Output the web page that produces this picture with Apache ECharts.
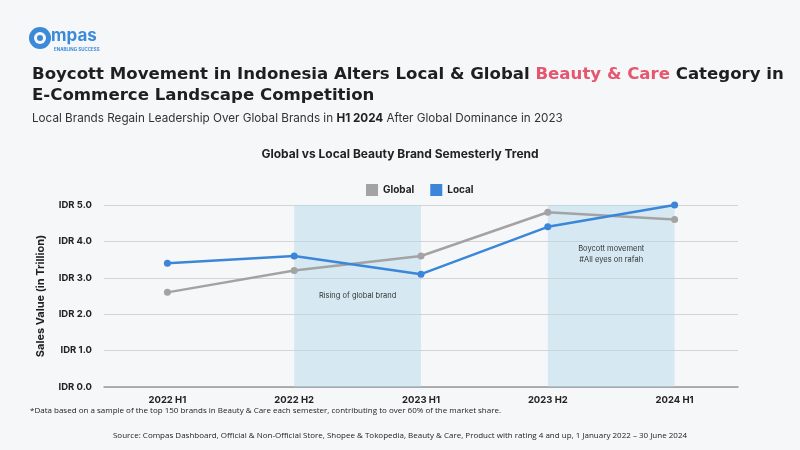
<!DOCTYPE html>
<html><head><meta charset="utf-8">
<script src="https://cdn.jsdelivr.net/npm/echarts@6/dist/echarts.min.js"></script>
<style>html,body{margin:0;padding:0;background:#f6f7f8}#c{width:800px;height:450px}</style>
</head><body><div id="c"></div>
<script>
const categories = ['2022 H1','2022 H2','2023 H1','2023 H2','2024 H1'];
const globalValues = [2.6, 3.2, 3.6, 4.8, 4.6];
const localValues = [3.4, 3.6, 3.1, 4.4, 5.0];
const seriesNames = ['Global','Local'];
const areas = [
  {from:'2022 H2', to:'2023 H1', text:'Rising of global brand'},
  {from:'2023 H2', to:'2024 H1', text:'Boycott movement\n#All eyes on rafah'}
];
const F = 'Inter, "Noto Sans", sans-serif';
const T = '"DejaVu Sans", Inter, sans-serif';
const chart = echarts.init(document.getElementById('c'));
chart.setOption({
  backgroundColor:'#f6f7f8',
  animation:false,
  title:[
    {left:32, top:64, padding:0, text:'Boycott Movement in Indonesia Alters Local & Global {p|Beauty & Care} Category in\nE-Commerce Landscape Competition',
     textStyle:{fontFamily:T, fontSize:16.6, fontWeight:'bold', color:'#1f1f1f', lineHeight:21,
       rich:{p:{fontFamily:T, fontSize:16.6, fontWeight:'bold', color:'#e5566f'}}}},
    {left:32, top:112, padding:0, text:'Local Brands Regain Leadership Over Global Brands in {b|H1 2024} After Global Dominance in 2023',
     textStyle:{fontFamily:F, fontSize:11.7, fontWeight:'normal', color:'#333',
       rich:{b:{fontFamily:F, fontSize:11.7, fontWeight:'bold', color:'#222'}}}},
    {left:'center', top:148, padding:0, text:'Global vs Local Beauty Brand Semesterly Trend',
     textStyle:{fontFamily:F, fontSize:12, fontWeight:'bold', color:'#222'}}
  ],
  legend:{top:184, left:366, padding:0, itemWidth:12, itemHeight:12, itemGap:16, icon:'rect',
    data:seriesNames, textStyle:{fontFamily:F, fontSize:10, fontWeight:'bold', color:'#222'}},
  grid:{left:104, right:62, top:205, bottom:63},
  xAxis:{type:'category', data:categories, boundaryGap:true,
    axisLine:{lineStyle:{color:'#999', width:1.5}}, axisTick:{show:false},
    axisLabel:{fontFamily:F, fontSize:9.5, fontWeight:'bold', color:'#222', margin:8}},
  yAxis:{type:'value', min:0, max:5, interval:1,
    name:'Sales Value (in Trillion)', nameLocation:'middle', nameGap:58, nameRotate:90,
    nameTextStyle:{fontFamily:F, fontSize:11, fontWeight:'bold', color:'#222'},
    axisLine:{show:false}, axisTick:{show:false},
    axisLabel:{fontFamily:F, fontSize:9.5, fontWeight:'bold', color:'#222', margin:12,
      formatter:v=>'IDR '+v.toFixed(1)},
    splitLine:{lineStyle:{color:'#d4d4d4', width:1}}},
  graphic:[
    {type:'circle', left:29, top:27, shape:{r:11}, style:{fill:'#3b8ad9'}},
    {type:'circle', left:34, top:32, shape:{r:6}, style:{fill:'#f6f7f8'}},
    {type:'circle', left:37, top:35, shape:{r:3}, style:{fill:'#3b8ad9'}},
    {type:'text', left:51, top:27, style:{text:'mpas', fontFamily:F, fontSize:17, fontWeight:'bold', fill:'#3b8ad9'}},
    {type:'text', left:54, top:47, style:{text:'ENABLING SUCCESS', fontFamily:F, fontSize:4.5, fontWeight:'bold', fill:'#3b8ad9'}},
    {type:'text', left:30, top:407, style:{text:'*Data based on a sample of the top 150 brands in Beauty & Care each semester, contributing to over 60% of the market share.',
      fontFamily:'"Open Sans", sans-serif', fontSize:8, fill:'#222'}},
    {type:'text', left:'center', top:432, style:{text:'Source: Compas Dashboard, Official & Non-Official Store, Shopee & Tokopedia, Beauty & Care, Product with rating 4 and up, 1 January 2022 – 30 June 2024',
      fontFamily:'"Open Sans", sans-serif', fontSize:8, fill:'#222'}}
  ],
  series:[
    {name:seriesNames[0], type:'line', data:globalValues, color:'#a3a3a3', symbol:'circle', symbolSize:7,
     lineStyle:{width:2.5, color:'#a3a3a3'}, itemStyle:{color:'#a3a3a3'}, z:2,
     markArea:{silent:true, itemStyle:{color:'rgba(176,214,236,0.45)'},
       label:{fontFamily:F, fontSize:7.5, color:'#333', lineHeight:11},
       data:[
         [{xAxis:areas[0].from, yAxis:0, name:areas[0].text, label:{position:'inside'}},{xAxis:areas[0].to, yAxis:5}],
         [{xAxis:areas[1].from, yAxis:0, name:areas[1].text, label:{position:'insideTop', distance:38}},{xAxis:areas[1].to, yAxis:5}]
       ]}},
    {name:seriesNames[1], type:'line', data:localValues, color:'#3b86d8', symbol:'circle', symbolSize:7,
     lineStyle:{width:2.5, color:'#3b86d8'}, itemStyle:{color:'#3b86d8'}, z:3}
  ]
});
</script></body></html>
